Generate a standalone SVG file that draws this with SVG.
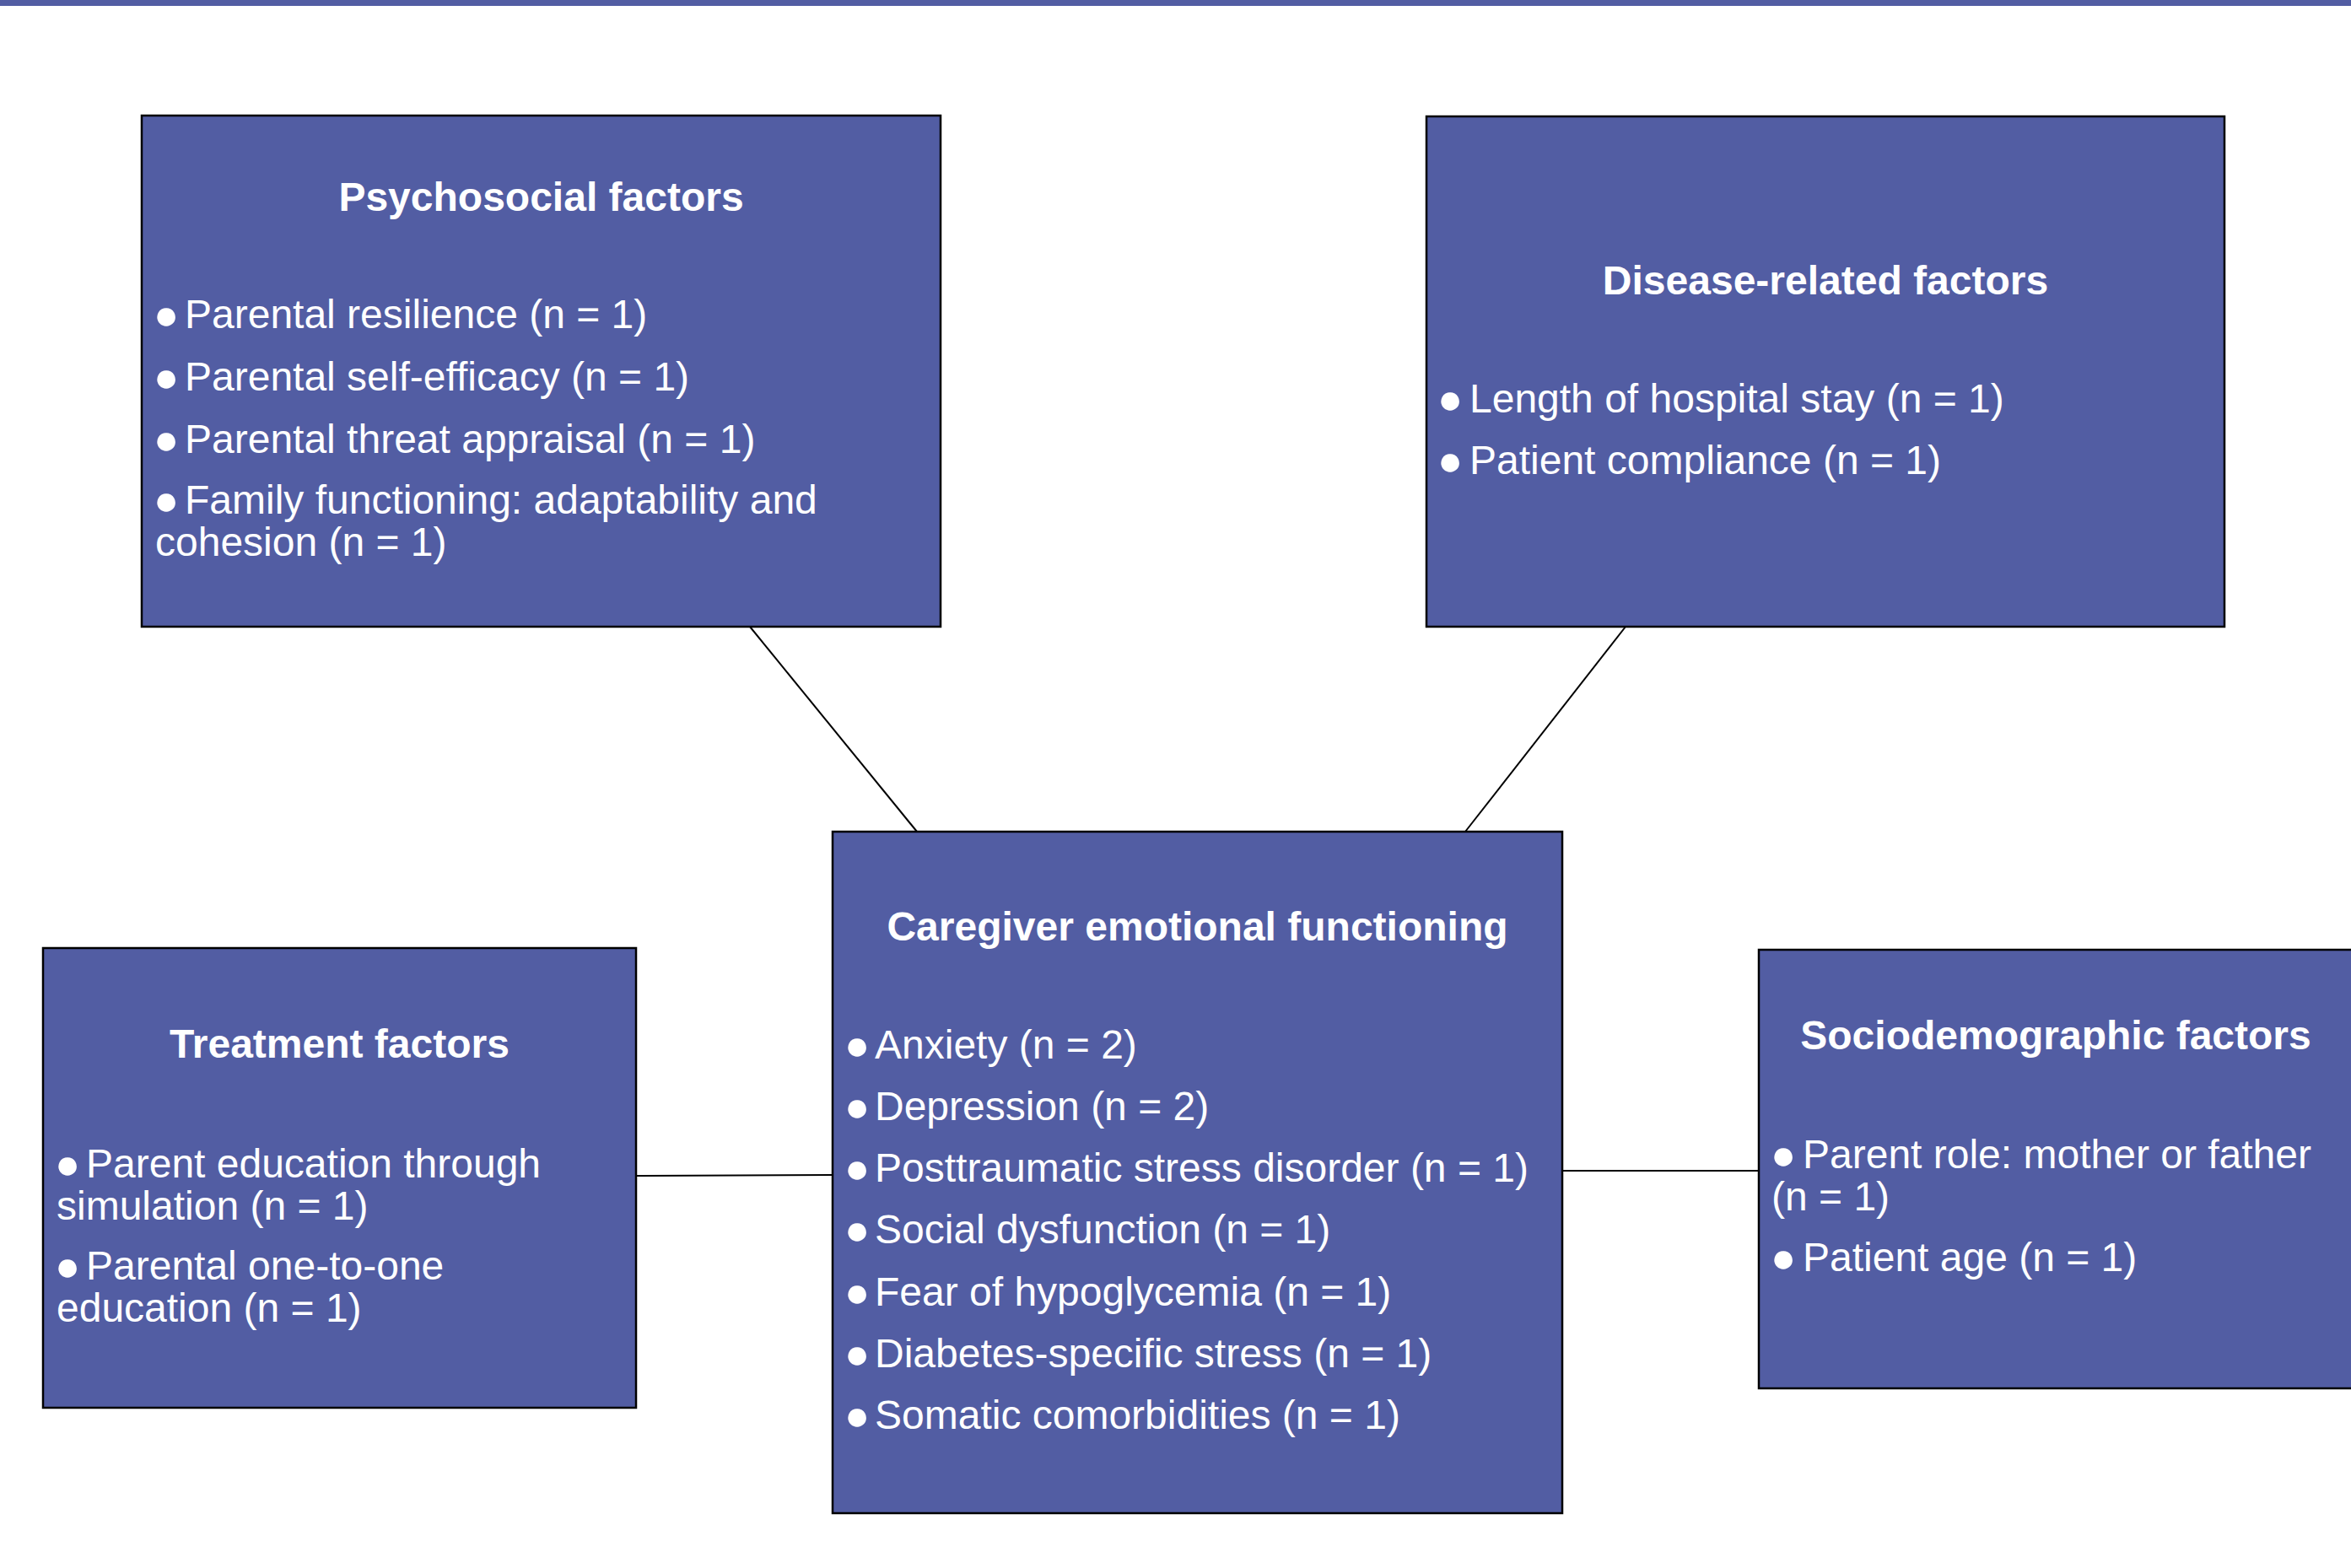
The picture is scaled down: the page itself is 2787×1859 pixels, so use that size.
<svg xmlns="http://www.w3.org/2000/svg" width="2787" height="1859" viewBox="0 0 2787 1859">
<style>
.box{fill:#525da3;stroke:#000;stroke-width:2.5}
.title{font-family:"Liberation Sans",Arial,sans-serif;font-weight:bold;font-size:48px;fill:#fff;text-anchor:middle}
.item{font-family:"Liberation Sans",Arial,sans-serif;font-size:48px;fill:#fff}
.bul{font-size:50px}
.conn{stroke:#000;stroke-width:2;fill:none}
</style>
<rect x="0" y="0" width="2787" height="7" fill="#525da3"/>
<g id="connectors">
<line class="conn" x1="889" y1="743" x2="1087" y2="986"/>
<line class="conn" x1="1927" y1="743" x2="1737" y2="986"/>
<line class="conn" x1="754" y1="1394" x2="987" y2="1393"/>
<line class="conn" x1="1852" y1="1388" x2="2085" y2="1388"/>
</g>
<g id="psychosocial">
<rect class="box" x="168" y="137" width="947" height="606"/>
<text class="title" x="641.5" y="250">Psychosocial factors</text>
<text class="item" x="182" y="389"><tspan class="bul" dy="1">●</tspan><tspan x="219" dy="-1">Parental resilience (n = 1)</tspan></text>
<text class="item" x="182" y="463"><tspan class="bul" dy="1">●</tspan><tspan x="219" dy="-1">Parental self-efficacy (n = 1)</tspan></text>
<text class="item" x="182" y="537"><tspan class="bul" dy="1">●</tspan><tspan x="219" dy="-1">Parental threat appraisal (n = 1)</tspan></text>
<text class="item" x="182" y="609"><tspan class="bul" dy="1">●</tspan><tspan x="219" dy="-1">Family functioning: adaptability and</tspan><tspan x="184" dy="50">cohesion (n = 1)</tspan></text>
</g>
<g id="disease">
<rect class="box" x="1691" y="138" width="946" height="605"/>
<text class="title" x="2164" y="349">Disease-related factors</text>
<text class="item" x="1704" y="489"><tspan class="bul" dy="1">●</tspan><tspan x="1742" dy="-1">Length of hospital stay (n = 1)</tspan></text>
<text class="item" x="1704" y="562"><tspan class="bul" dy="1">●</tspan><tspan x="1742" dy="-1">Patient compliance (n = 1)</tspan></text>
</g>
<g id="center">
<rect class="box" x="987" y="986" width="865" height="808"/>
<text class="title" x="1419.5" y="1115">Caregiver emotional functioning</text>
<text class="item" x="1001" y="1255"><tspan class="bul" dy="1">●</tspan><tspan x="1037" dy="-1">Anxiety (n = 2)</tspan></text>
<text class="item" x="1001" y="1328"><tspan class="bul" dy="1">●</tspan><tspan x="1037" dy="-1">Depression (n = 2)</tspan></text>
<text class="item" x="1001" y="1401"><tspan class="bul" dy="1">●</tspan><tspan x="1037" dy="-1">Posttraumatic stress disorder (n = 1)</tspan></text>
<text class="item" x="1001" y="1474"><tspan class="bul" dy="1">●</tspan><tspan x="1037" dy="-1">Social dysfunction (n = 1)</tspan></text>
<text class="item" x="1001" y="1548"><tspan class="bul" dy="1">●</tspan><tspan x="1037" dy="-1">Fear of hypoglycemia (n = 1)</tspan></text>
<text class="item" x="1001" y="1621"><tspan class="bul" dy="1">●</tspan><tspan x="1037" dy="-1">Diabetes-specific stress (n = 1)</tspan></text>
<text class="item" x="1001" y="1694"><tspan class="bul" dy="1">●</tspan><tspan x="1037" dy="-1">Somatic comorbidities (n = 1)</tspan></text>
</g>
<g id="treatment">
<rect class="box" x="51" y="1124" width="703" height="545"/>
<text class="title" x="402.5" y="1254">Treatment factors</text>
<text class="item" x="65" y="1396"><tspan class="bul" dy="1">●</tspan><tspan x="102" dy="-1">Parent education through</tspan><tspan x="67" dy="50">simulation (n = 1)</tspan></text>
<text class="item" x="65" y="1517"><tspan class="bul" dy="1">●</tspan><tspan x="102" dy="-1">Parental one-to-one</tspan><tspan x="67" dy="50">education (n = 1)</tspan></text>
</g>
<g id="sociodemographic">
<rect class="box" x="2085" y="1126" width="706" height="520"/>
<text class="title" x="2437" y="1244">Sociodemographic factors</text>
<text class="item" x="2099" y="1385"><tspan class="bul" dy="1">●</tspan><tspan x="2137" dy="-1">Parent role: mother or father</tspan><tspan x="2100" dy="50">(n = 1)</tspan></text>
<text class="item" x="2099" y="1507"><tspan class="bul" dy="1">●</tspan><tspan x="2137" dy="-1">Patient age (n = 1)</tspan></text>
</g>
</svg>
